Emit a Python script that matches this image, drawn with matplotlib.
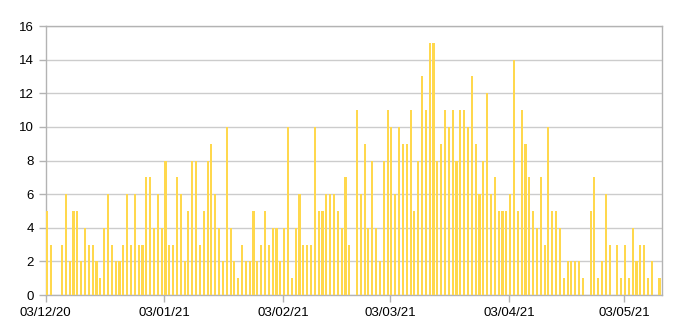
import numpy as np
import pandas as pd
import matplotlib
matplotlib.use("Agg")
import matplotlib.pyplot as plt
import matplotlib.dates as mdates

plt.rcParams['font.family'] = ['Liberation Sans', 'DejaVu Sans']

# daily counts, 03/12/20 .. 12/05/21
start = "2020-12-03"
counts = [
    # Dec 3 - Dec 29
    5, 3, 0, 0, 3, 6, 2, 5, 5, 2, 4, 3, 3, 2, 1, 4, 6, 3, 2, 2, 3, 6, 3, 6, 3, 3, 7,
    # Dec 30 - Jan 25
    7, 4, 6, 4, 8, 3, 3, 7, 6, 2, 5, 8, 8, 3, 5, 8, 9, 6, 4, 2, 10, 4, 2, 1, 3, 2, 2,
    # Jan 26 - Feb 21
    5, 2, 3, 5, 3, 4, 4, 2, 4, 10, 1, 4, 6, 3, 3, 3, 10, 5, 5, 6, 6, 6, 5, 4, 7, 3, 0,
    # Feb 22 - Mar 20
    11, 6, 9, 4, 8, 4, 2, 8, 11, 10, 6, 10, 9, 9, 11, 5, 8, 13, 11, 15, 15, 8, 9, 11, 10, 11, 8,
    # Mar 21 - Apr 16
    11, 11, 10, 13, 9, 6, 8, 12, 6, 7, 5, 5, 5, 6, 14, 5, 11, 9, 7, 5, 4, 7, 3, 10, 5, 5, 4,
    # Apr 17 - May 12
    1, 2, 2, 2, 2, 1, 0, 5, 7, 1, 2, 6, 3, 0, 3, 1, 3, 1, 4, 2, 3, 3, 1, 2, 0, 1,
]
tick_dates = ["2020-12-03", "2021-01-03", "2021-02-03", "2021-03-03", "2021-04-03", "2021-05-03"]

days = pd.date_range(start, periods=len(counts), freq="D")

fig = plt.figure(figsize=(6.87, 3.36), dpi=100)
ax = fig.add_axes([0.0665, 0.122, 0.8975, 0.8005])

ax.bar(days, counts, width=0.55, align="edge", color="#ffd84d", zorder=3)

ax.set_xlim(days[0], days[-1] + pd.Timedelta(days=1))
ax.set_ylim(0, 16)
ax.set_yticks(np.arange(0, 17, 2))
ax.set_xticks(pd.to_datetime(tick_dates))
ax.xaxis.set_major_formatter(mdates.DateFormatter("%d/%m/%y"))

ax.grid(axis="y", color="#cccccc", linewidth=1, zorder=0)
for s in ax.spines.values():
    s.set_color("#b3b3b3")
    s.set_linewidth(1)
ax.tick_params(axis="both", colors="#b3b3b3", labelcolor="black", labelsize=9.5, length=5, width=1)

fig.savefig("out.png", dpi=100)
